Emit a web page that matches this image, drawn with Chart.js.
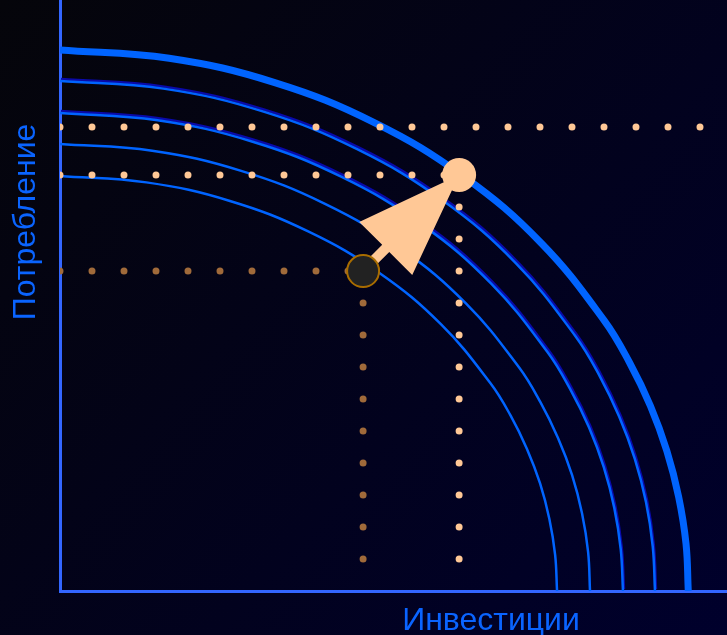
<!DOCTYPE html>
<html>
<head>
<meta charset="utf-8">
<title>Кривые производственных возможностей</title>
<script src="https://cdn.jsdelivr.net/npm/chart.js@4.4.1/dist/chart.umd.min.js"></script>
<style>
  html, body { margin: 0; padding: 0; background: #000; }
  #wrap { width: 727px; height: 635px; }
</style>
</head>
<body>
<div id="wrap"><canvas id="ppf-chart" width="727" height="635"></canvas></div>
<script>
// Axis ranges (1 unit = one dot step of the guide lines)
const invMax = 20.84;
const consMax = 18.47;

// Production possibility curves, outer (thick) to inner
const ppf1Inv  = [0, 3.41, 6.71, 9.82, 12.62, 15.04, 17.00, 17.79, 18.45, 18.96, 19.33, 19.56, 19.63];
const ppf1Cons = [16.91, 16.65, 15.89, 14.64, 12.95, 10.87, 8.46, 7.15, 5.78, 4.38, 2.94, 1.47, 0];
const ppf2Inv  = [0, 3.23, 6.36, 9.30, 11.95, 14.24, 16.10, 16.85, 17.47, 17.96, 18.31, 18.52, 18.59];
const ppf2Cons = [15.94, 15.70, 14.98, 13.80, 12.21, 10.25, 7.97, 6.74, 5.45, 4.13, 2.77, 1.39, 0];
const ppf3Inv  = [0, 3.05, 6.02, 8.80, 11.31, 13.48, 15.23, 15.94, 16.53, 16.99, 17.32, 17.52, 17.59];
const ppf3Cons = [14.94, 14.71, 14.04, 12.94, 11.45, 9.60, 7.47, 6.31, 5.11, 3.87, 2.59, 1.30, 0];
const ppf4Inv  = [0, 2.88, 5.66, 8.28, 10.65, 12.69, 14.34, 15.01, 15.56, 16.00, 16.31, 16.50, 16.56];
const ppf4Cons = [13.97, 13.76, 13.13, 12.10, 10.70, 8.98, 6.99, 5.90, 4.78, 3.62, 2.43, 1.22, 0];
const ppf5Inv  = [0, 2.70, 5.31, 7.77, 9.98, 11.90, 13.45, 14.08, 14.59, 15.00, 15.29, 15.47, 15.53];
const ppf5Cons = [12.97, 12.77, 12.19, 11.23, 9.94, 8.34, 6.49, 5.48, 4.44, 3.36, 2.25, 1.13, 0];

// Allocation points: start (dark) and new (peach)
const pointInv  = [9.47, 12.47];
const pointCons = [10, 13];
// Upper dotted guide level
const guideCons = 14.5;

const blue = '#0064ff';
const axisBlue = '#3366ff';
const peach = '#ffc896';
const brown = '#a06a3a';

function pairs(xs, ys) {
    return xs.map((x, i) => ({ x: x, y: ys[i] }));
}

function curve(xs, ys, width, shadow) {
    return {
        type: 'line',
        data: pairs(xs, ys),
        borderColor: blue,
        borderWidth: width,
        pointRadius: 0,
        tension: 0.4,
        fill: false,
        shadow: shadow,
        order: 10
    };
}

function dotted(points, color) {
    return {
        type: 'line',
        data: points,
        borderColor: color,
        borderWidth: 7,
        borderCapStyle: 'round',
        borderDash: [0, 32],
        pointRadius: 0,
        tension: 0,
        fill: false,
        order: 5
    };
}

// Dark gradient background
const backgroundPlugin = {
    id: 'background',
    beforeDraw(chart) {
        const ctx = chart.ctx;
        const g = ctx.createLinearGradient(0, 0, chart.width, chart.height);
        g.addColorStop(0, '#05050a');
        g.addColorStop(1, '#00002c');
        ctx.save();
        ctx.fillStyle = g;
        ctx.fillRect(0, 0, chart.width, chart.height);
        ctx.restore();
    }
};

// Dark-blue offset shadow on some curves
const shadowPlugin = {
    id: 'curveShadow',
    beforeDatasetDraw(chart, args) {
        if (args.meta._dataset.shadow) {
            const ctx = chart.ctx;
            ctx.save();
            ctx.shadowColor = '#0a0aa8';
            ctx.shadowOffsetX = 1;
            ctx.shadowOffsetY = -2;
            ctx.shadowBlur = 0;
        }
    },
    afterDatasetDraw(chart, args) {
        if (args.meta._dataset.shadow) {
            chart.ctx.restore();
        }
    }
};

// Arrow from the start point to the new point, drawn just under the circles
const arrowPlugin = {
    id: 'arrow',
    beforeDatasetDraw(chart, args) {
        if (!args.meta._dataset.isMarkers) return;
        const xs = chart.scales.x, ys = chart.scales.y;
        const x0 = xs.getPixelForValue(pointInv[0]), y0 = ys.getPixelForValue(pointCons[0]);
        const x1 = xs.getPixelForValue(pointInv[1]), y1 = ys.getPixelForValue(pointCons[1]);
        const len = Math.hypot(x1 - x0, y1 - y0);
        const ux = (x1 - x0) / len, uy = (y1 - y0) / len;
        const nx = -uy, ny = ux;
        const baseDist = 32, halfHead = 37.5, halfShaft = 5;
        const bx = x0 + ux * baseDist, by = y0 + uy * baseDist;
        const ctx = chart.ctx;
        ctx.save();
        ctx.fillStyle = peach;
        ctx.beginPath();
        ctx.moveTo(x0 + nx * halfShaft, y0 + ny * halfShaft);
        ctx.lineTo(bx + nx * halfShaft, by + ny * halfShaft);
        ctx.lineTo(bx + nx * halfHead, by + ny * halfHead);
        ctx.lineTo(x1, y1);
        ctx.lineTo(bx - nx * halfHead, by - ny * halfHead);
        ctx.lineTo(bx - nx * halfShaft, by - ny * halfShaft);
        ctx.lineTo(x0 - nx * halfShaft, y0 - ny * halfShaft);
        ctx.closePath();
        ctx.fill();
        ctx.restore();
    }
};

// Axis titles
const titlePlugin = {
    id: 'axisTitles',
    afterDraw(chart) {
        const ctx = chart.ctx;
        const area = chart.chartArea;
        ctx.save();
        ctx.fillStyle = '#0a64ff';
        ctx.font = '32px "Liberation Sans", Arial, sans-serif';
        ctx.textAlign = 'center';
        ctx.textBaseline = 'alphabetic';
        ctx.fillText('Инвестиции', area.left + 431, area.bottom + 39);
        ctx.translate(area.left - 25, area.top + 222);
        ctx.rotate(-Math.PI / 2);
        ctx.fillText('Потребление', 0, 0);
        ctx.restore();
    }
};

window.onload = function() {
    const ctx = document.getElementById('ppf-chart').getContext('2d');

    const datasets = [
        curve(ppf1Inv, ppf1Cons, 7, false),
        curve(ppf2Inv, ppf2Cons, 2.5, true),
        curve(ppf3Inv, ppf3Cons, 2.5, true),
        curve(ppf4Inv, ppf4Cons, 2.5, false),
        curve(ppf5Inv, ppf5Cons, 2.5, false),
        // upper guide across the whole chart
        dotted([{ x: 0, y: guideCons }, { x: invMax, y: guideCons }], peach),
        // guides for the new point
        dotted([{ x: 0, y: pointCons[1] }, { x: pointInv[1], y: pointCons[1] }], peach),
        dotted([{ x: pointInv[1], y: pointCons[1] }, { x: pointInv[1], y: 0 }], peach),
        // guides for the start point
        dotted([{ x: 0, y: pointCons[0] }, { x: pointInv[0], y: pointCons[0] }], brown),
        dotted([{ x: pointInv[0], y: pointCons[0] }, { x: pointInv[0], y: 0 }], brown),
        {
            type: 'scatter',
            data: pairs(pointInv, pointCons),
            isMarkers: true,
            pointRadius: [16, 17],
            pointBackgroundColor: ['#222222', peach],
            pointBorderColor: ['#a86c00', peach],
            pointBorderWidth: [2, 0],
            order: 1
        }
    ];

    new Chart(ctx, {
        type: 'scatter',
        data: { datasets: datasets },
        options: {
            responsive: false,
            animation: false,
            events: [],
            layout: { padding: 0, autoPadding: false },
            plugins: {
                legend: { display: false },
                tooltip: { enabled: false }
            },
            scales: {
                x: {
                    type: 'linear',
                    min: 0,
                    max: invMax,
                    z: 1,
                    grid: { display: false },
                    ticks: { display: false },
                    border: { display: true, color: axisBlue, width: 3 },
                    afterFit: function(scale) { scale.height = 44; }
                },
                y: {
                    type: 'linear',
                    min: 0,
                    max: consMax,
                    z: 1,
                    grid: { display: false },
                    ticks: { display: false },
                    border: { display: true, color: axisBlue, width: 3 },
                    afterFit: function(scale) { scale.width = 60; }
                }
            }
        },
        plugins: [backgroundPlugin, shadowPlugin, arrowPlugin, titlePlugin]
    });
};
</script>
</body>
</html>
